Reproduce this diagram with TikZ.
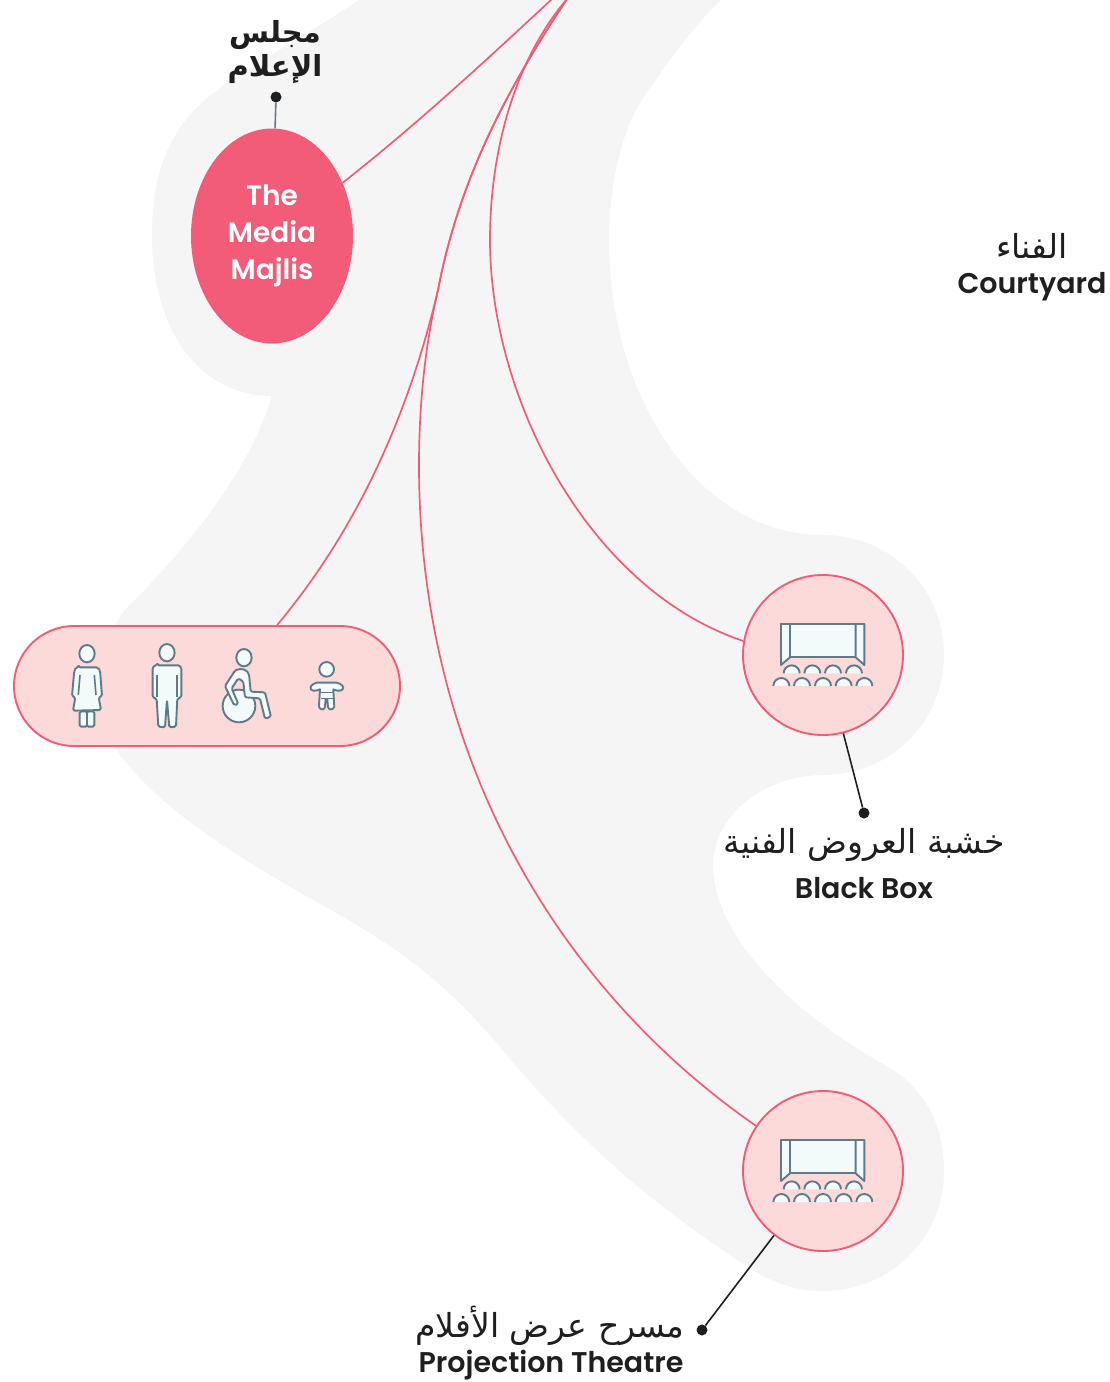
\documentclass[tikz,border=0pt]{standalone}
\usepackage{fontspec}
\usetikzlibrary{shapes.geometric}
\TeXXeTstate=1
\setmainfont{Lato}
\newfontfamily\arabicfont[Script=Arabic]{DejaVu Sans}
\newfontfamily\latinmed{Poppins SemiBold}
\newfontfamily\latinbold{Poppins SemiBold}
\definecolor{blobgrey}{HTML}{F5F5F5}
\definecolor{rosered}{HTML}{F25C78}
\definecolor{palepink}{HTML}{FCDADA}
\definecolor{iconline}{HTML}{5F7A8A}
\definecolor{iconfill}{HTML}{F2FAFA}
\definecolor{inkdark}{HTML}{1F1F1F}
\tikzset{
  hub/.style={draw=rosered,line width=1.9pt,fill=palepink,circle,minimum size=160pt,inner sep=0pt},
  link/.style={draw=rosered,line width=1.7pt},
  leader/.style={draw=inkdark,line width=1.6pt},
  dotmark/.style={circle,fill=inkdark,minimum size=11pt,inner sep=0pt},
  icon/.style={draw=iconline,fill=iconfill,line width=1.9pt,line join=round,rounded corners=1.5},
  iconthin/.style={draw=iconline,line width=1.6pt},
  artext/.style={text=inkdark,font=\arabicfont\fontsize{33}{38}\selectfont,inner sep=0pt},
  entext/.style={text=inkdark,font=\latinmed\fontsize{28.5}{34}\selectfont,inner sep=0pt,anchor=base},
}
\newcommand{\theatreicon}[1]{%
  \begin{scope}[shift={(740,#1)},x=0.3333pt,y=-0.3333pt]
    \draw[icon,rounded corners=0] (123,162) rectangle (373,262);
    \draw[icon,rounded corners=0] (123,162) -- (150,162) -- (150,262) -- (123,285) -- cycle;
    \draw[icon,rounded corners=0] (373,162) -- (347,162) -- (347,262) -- (373,285) -- cycle;
    \foreach \sx in {155,217,279,342}
      \draw[icon,rounded corners=0] (\sx-24,310) arc[start angle=180,end angle=0,x radius=24,y radius=-24];
    \foreach \sx in {124,186,249,311,373}
      \draw[icon,rounded corners=0] (\sx-24,348) arc[start angle=180,end angle=0,x radius=24,y radius=-24];
  \end{scope}}
\begin{document}
\begin{tikzpicture}[x=1pt,y=-1pt]
\useasboundingbox (0,0) rectangle (1110,1382);
\clip (0,0) rectangle (1110,1382);
\fill[white] (0,0) rectangle (1110,1382);
% pale background band
\fill[blobgrey] (362,-2) .. controls (300,40) and (240,70) .. (205,100)
  .. controls (165,135) and (152,180) .. (152,236)
  .. controls (152,330) and (200,396) .. (272,396)
  .. controls (250,470) and (190,545) .. (125,610)
  .. controls (100,640) and (95,720) .. (120,755)
  .. controls (170,820) and (260,870) .. (340,915)
  .. controls (410,955) and (450,990) .. (490,1035)
  .. controls (560,1120) and (630,1190) .. (745,1265)
  .. controls (770,1282) and (795,1291) .. (823,1291)
  .. controls (890,1291) and (944,1238) .. (944,1171)
  .. controls (944,1125) and (925,1088) .. (885,1065)
  .. controls (790,1012) and (713,935) .. (713,865)
  .. controls (713,815) and (765,775) .. (823,775)
  .. controls (890,775) and (944,722) .. (944,655)
  .. controls (944,588) and (890,535) .. (823,535)
  .. controls (700,535) and (609,400) .. (609,240)
  .. controls (609,190) and (620,130) .. (645,95)
  .. controls (665,65) and (695,25) .. (722,-2) -- cycle;
% nodes
\node[ellipse,minimum width=162pt,minimum height=215pt,inner sep=0pt,fill=rosered,text=white,align=center,
  font=\latinbold\fontsize{28}{37}\selectfont] (media) at (272,236) {The\\Media\\Majlis};
\node[draw=rosered,line width=1.9pt,fill=palepink,rectangle,rounded corners=60pt,minimum width=386pt,minimum height=120pt,inner sep=0pt] (pill) at (207,686) {};
\node[hub] (blackbox) at (823,655) {};
\node[hub] (projection) at (823,1171) {};
% off-canvas ends of the links
\coordinate (topa) at (552,-1);
\coordinate (topb) at (567,-1);
% links
\draw[link] (topa) .. controls (495,52) and (420,122) .. (media.37);
\draw[link] (topb) .. controls (510,85) and (460,175) .. (438,290) .. controls (412,400) and (365,520) .. (pill.41.5);
\draw[link] (topb) .. controls (510,85) and (460,175) .. (438,290) .. controls (425,345) and (419,405) .. (419,465) .. controls (419,760) and (560,990) .. (projection.146.3);
\draw[link] (topb) .. controls (515,60) and (490,150) .. (490,240) .. controls (490,400) and (590,590) .. (blackbox.170);
% leaders
\node[dotmark] (dota) at (276,97) {};
\node[dotmark] (dotb) at (864,813) {};
\node[dotmark] (dotc) at (702,1330) {};
\draw[draw=iconline,line width=1.6pt] (dota) -- (media);
\draw[leader] (dotb) -- (blackbox);
\draw[leader] (dotc) -- (projection);
% labels
\node[artext,font=\arabicfont\bfseries\fontsize{29}{32}\selectfont] (lmaj1) at (275,35) {\beginR مجلس\endR};
\node[artext,font=\arabicfont\bfseries\fontsize{29}{32}\selectfont] (lmaj2) at (275,69) {\beginR الإعلام\endR};
\node[artext] (lcourt) at (1032,246) {\beginR الفناء\endR};
\node[entext] (lcourten) at (1032,293) {Courtyard};
\node[artext] (lbb) at (864,845) {\beginR خشبة العروض الفنية\endR};
\node[entext] (lbben) at (864,898) {Black Box};
\node[artext] (lpt) at (550,1326) {\beginR مسرح عرض الأفلام\endR};
\node[entext] (lpten) at (551,1372) {Projection Theatre};
% theatre icons
\theatreicon{570}
\theatreicon{1086}
% people icons
\begin{scope}[shift={(0,610)},x=0.3333pt,y=-0.3333pt]
  % woman
  \draw[icon] (236,172) -- (285,172) .. controls (297,172) and (300,182) .. (301,192) -- (306,258) -- (296,262) -- (303,300) -- (219,302) -- (226,262) -- (216,258) -- (222,192) .. controls (223,182) and (226,172) .. (236,172) -- cycle;
  \draw[iconthin] (240,195) -- (235,255) (283,195) -- (288,255);
  \draw[icon] (239,304) rectangle (261,350);
  \draw[icon] (261,304) rectangle (283,350);
  \draw[icon] (261,131) ellipse[x radius=23,y radius=26];
  % man
  \draw[icon] (472,166) -- (530,166) .. controls (540,166) and (544,172) .. (544,182) -- (544,262) -- (532,266) -- (528,350) -- (508,352) -- (501,270) -- (495,352) -- (475,350) -- (470,266) -- (458,262) -- (458,182) .. controls (458,172) and (462,166) .. (472,166) -- cycle;
  \draw[iconthin] (471,195) -- (471,262) (531,195) -- (531,262);
  \draw[icon] (501,128) ellipse[x radius=23,y radius=26];
  % wheelchair user
  \draw[icon] (717,288) circle[radius=49];
  \draw[icon] (705,182) .. controls (725,172) and (745,180) .. (748,200) -- (752,245) -- (795,247) -- (813,320) -- (795,326) -- (780,265) -- (735,262) -- (730,215) -- (715,205) -- (695,235) -- (715,282) -- (702,285) -- (675,228) -- cycle;
  \draw[icon] (732,143) ellipse[x radius=23,y radius=26];
  % baby
  \draw[icon,rounded corners=0] (950,218) -- (1010,218) .. controls (1025,222) and (1034,230) .. (1028,238) .. controls (1022,245) and (1008,242) .. (1000,238) -- (1003,290) .. controls (1000,301) and (985,301) .. (984,290) -- (982,268) -- (977,268) -- (975,290) .. controls (974,301) and (960,301) .. (957,290) -- (960,238) .. controls (952,242) and (938,245) .. (933,238) .. controls (928,230) and (937,222) .. (950,218) -- cycle;
  \draw[iconthin] (960,248) -- (1000,248) (962,265) -- (998,265);
  \draw[icon] (980,178) ellipse[x radius=22,y radius=22];
\end{scope}
\end{tikzpicture}
\end{document}
